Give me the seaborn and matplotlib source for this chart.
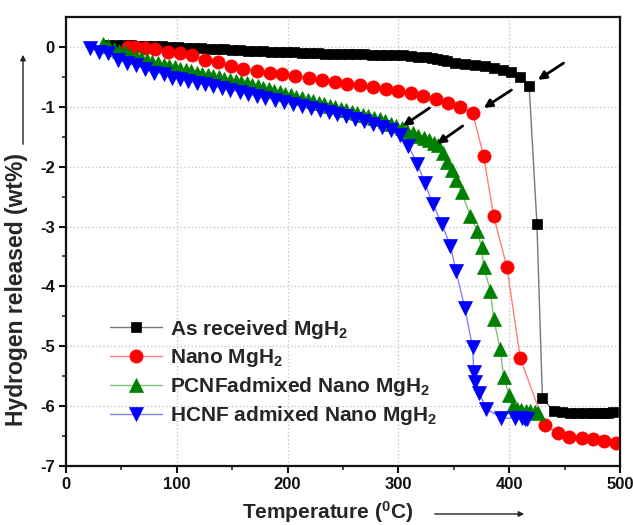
import matplotlib
matplotlib.use("Agg")
import matplotlib.pyplot as plt
import seaborn as sns
import pandas as pd

# ---------------- data ----------------
black_x = [38, 45, 52, 59, 66, 73, 80, 87, 94, 101, 108, 115, 122, 129, 136, 143, 150, 157, 164, 171,
           178, 185, 192, 199, 206, 213, 220, 227, 234, 241, 248, 255, 262, 269, 276, 283, 290, 297, 304,
           311, 318, 325, 330, 335, 340, 344, 351, 360, 369, 378, 386, 394, 402, 410, 418, 425, 430, 440,
           448, 455, 462, 469, 475, 480, 485, 489, 494]
black_y = [0.04, 0.04, 0.03, 0.03, 0.02, 0.02, 0.01, 0.01, 0.0, 0.0, -0.01, -0.02, -0.02, -0.03, -0.04,
           -0.04, -0.05, -0.05, -0.06, -0.07, -0.07, -0.08, -0.08, -0.09, -0.09, -0.1, -0.1, -0.1, -0.11,
           -0.11, -0.11, -0.12, -0.12, -0.12, -0.13, -0.13, -0.13, -0.14, -0.14, -0.15, -0.16, -0.17, -0.18,
           -0.2, -0.22, -0.24, -0.27, -0.28, -0.3, -0.32, -0.35, -0.38, -0.42, -0.5, -0.65, -2.95, -5.87,
           -6.08, -6.1, -6.12, -6.12, -6.12, -6.12, -6.12, -6.11, -6.11, -6.1]

red_x = [56, 62, 71, 80, 92, 103, 114, 125, 137, 149, 160, 172, 184, 195, 207, 219, 231, 243, 254, 265,
         277, 289, 300, 311, 322, 334, 345, 356, 367, 377, 386, 398, 410, 432, 444, 454, 466, 476, 486, 496]
red_y = [0.0, 0.0, -0.01, -0.03, -0.08, -0.1, -0.14, -0.21, -0.26, -0.32, -0.37, -0.41, -0.44, -0.46,
         -0.49, -0.52, -0.55, -0.58, -0.62, -0.64, -0.67, -0.7, -0.73, -0.77, -0.82, -0.87, -0.93, -1.0,
         -1.1, -1.83, -2.83, -3.68, -5.2, -6.32, -6.45, -6.52, -6.53, -6.55, -6.58, -6.62]

green_x = [33, 38, 43, 48, 53, 58, 63, 68, 73, 78, 83, 88, 93, 98, 103, 108, 113, 118, 123, 128, 133,
           138, 143, 148, 153, 158, 163, 168, 173, 178, 183, 188, 193, 198, 203, 208, 213, 218, 223, 228,
           233, 238, 243, 248, 253, 258, 263, 268, 273, 278, 283, 288, 293, 298, 303, 308, 313, 318, 323,
           328, 332, 336, 340, 344, 348, 352, 357, 365, 371, 375, 377, 383, 386, 392, 395, 400, 403, 407,
           411, 415, 419, 423, 426]
green_y = [0.05, 0.01, -0.03, -0.06, -0.09, -0.13, -0.16, -0.19, -0.22, -0.25, -0.27, -0.3, -0.32, -0.34,
           -0.37, -0.39, -0.41, -0.43, -0.45, -0.47, -0.49, -0.51, -0.53, -0.55, -0.57, -0.59, -0.61, -0.63,
           -0.65, -0.68, -0.7, -0.73, -0.75, -0.78, -0.8, -0.83, -0.85, -0.88, -0.9, -0.93, -0.95, -0.98,
           -1.0, -1.03, -1.05, -1.08, -1.1, -1.13, -1.15, -1.18, -1.2, -1.24, -1.28, -1.32, -1.36, -1.4,
           -1.44, -1.48, -1.52, -1.56, -1.6, -1.64, -1.78, -1.92, -2.05, -2.22, -2.43, -2.82, -3.07, -3.35,
           -3.68, -4.07, -4.55, -5.05, -5.52, -5.82, -6.0, -6.05, -6.07, -6.08, -6.08, -6.1, -6.12]

blue_x = [22, 30, 38, 47, 55, 63, 71, 79, 88, 96, 103, 110, 118, 125, 133, 141, 148, 157, 164, 172, 180,
          189, 197, 205, 213, 221, 229, 237, 245, 253, 261, 269, 277, 285, 293, 301, 309, 317, 324, 331,
          339, 347, 352, 360, 367, 368, 369, 373, 379, 393, 405, 412, 414, 416]
blue_y = [-0.01, -0.08, -0.1, -0.22, -0.27, -0.3, -0.37, -0.43, -0.45, -0.52, -0.53, -0.57, -0.6, -0.62,
          -0.65, -0.68, -0.72, -0.75, -0.78, -0.82, -0.85, -0.88, -0.92, -0.95, -0.98, -1.02, -1.05, -1.08,
          -1.12, -1.16, -1.2, -1.24, -1.28, -1.33, -1.39, -1.47, -1.65, -1.95, -2.28, -2.62, -2.95, -3.32,
          -3.75, -4.36, -5.02, -5.43, -5.6, -5.78, -6.04, -6.2, -6.2, -6.2, -6.22, -6.22]

labels = ["As received MgH$_2$", "Nano MgH$_2$", "PCNFadmixed Nano MgH$_2$", "HCNF admixed Nano MgH$_2$"]
x_ticks = [0, 100, 200, 300, 400, 500]
y_ticks = [0, -1, -2, -3, -4, -5, -6, -7]

# ---------------- style ----------------
sns.set_style("ticks")
plt.rcParams["font.family"] = ["Liberation Sans", "DejaVu Sans"]
plt.rcParams["font.weight"] = "bold"
plt.rcParams["mathtext.default"] = "regular"
plt.rcParams["axes.unicode_minus"] = False

fig = plt.figure(figsize=(6.33, 5.25), dpi=100)
ax = fig.add_axes([66 / 633, 1 - 466 / 525, 554 / 633, 449 / 525])

series = [
    (black_x, black_y, labels[0], "#000000", "#777777", "s", 7.0),
    (red_x, red_y, labels[1], "#ff0000", "#ff7f7f", "o", 9.5),
    (green_x, green_y, labels[2], "#008000", "#7fc07f", "^", 9.5),
    (blue_x, blue_y, labels[3], "#0000ff", "#8080ff", "v", 9.5),
]
for xs, ys, lab, mc, lc, mk, ms in series:
    df = pd.DataFrame({"T": xs, "H": ys})
    sns.lineplot(data=df, x="T", y="H", ax=ax, sort=False, estimator=None, label=lab,
                 color=lc, linewidth=1.0, marker=mk, markersize=ms,
                 markerfacecolor=mc, markeredgecolor=mc, markeredgewidth=0.5)

ax.set_xlim(0, 500)
ax.set_ylim(-7, 0.5)
ax.set_xticks(x_ticks)
ax.set_yticks(y_ticks)
ax.set_xticks([50, 150, 250, 350, 450], minor=True)
ax.set_yticks([-0.5, -1.5, -2.5, -3.5, -4.5, -5.5, -6.5], minor=True)
ax.tick_params(axis="both", which="major", direction="out", length=5, width=1.5,
               labelsize=12, pad=3, colors="#111111")
ax.tick_params(axis="both", which="minor", direction="out", length=3, width=1.2)
for lab in ax.get_xticklabels() + ax.get_yticklabels():
    lab.set_fontweight("bold")
ax.grid(True, which="major", linestyle=":", color="#c8c8c8", linewidth=1.0)
for sp in ax.spines.values():
    sp.set_visible(True)
    sp.set_linewidth(1.6)
    sp.set_color("#111111")

ax.set_xlabel(r"Temperature ($^{0}$C)", fontsize=15, fontweight="bold")
ax.xaxis.set_label_coords((328 - 66) / 554, (466 - 499) / 449)
ax.set_ylabel("Hydrogen released (wt%)", fontsize=16.5, fontweight="bold")
ax.yaxis.set_label_coords((28 - 66) / 554, (466 - 289) / 449)

# direction arrows next to axis labels
fig.add_artist(matplotlib.patches.FancyArrowPatch((432 / 633, 1 - 514 / 525), (527 / 633, 1 - 514 / 525),
               transform=fig.transFigure, arrowstyle="-|>", mutation_scale=8, color="#222222", lw=1.0))
fig.add_artist(matplotlib.patches.FancyArrowPatch((23 / 633, 1 - 147 / 525), (23 / 633, 1 - 52 / 525),
               transform=fig.transFigure, arrowstyle="-|>", mutation_scale=8, color="#222222", lw=1.0))

# pointer arrows
arrows = [((449, -0.27), (426, -0.55)), ((402, -0.72), (377, -1.02)),
          ((328, -1.02), (304, -1.32)), ((358, -1.32), (335, -1.62))]
for tail, head in arrows:
    ax.annotate("", xy=head, xytext=tail,
                arrowprops=dict(arrowstyle="-|>", color="black", lw=2.0, mutation_scale=12,
                                shrinkA=0, shrinkB=0))

leg = ax.legend(loc="center left", bbox_to_anchor=(0.079, 0.208), frameon=False, borderpad=0,
                borderaxespad=0, handlelength=2.5, handletextpad=0.4, labelspacing=0.3,
                prop={"size": 15, "weight": "bold"})

fig.savefig("out.png", dpi=100)
